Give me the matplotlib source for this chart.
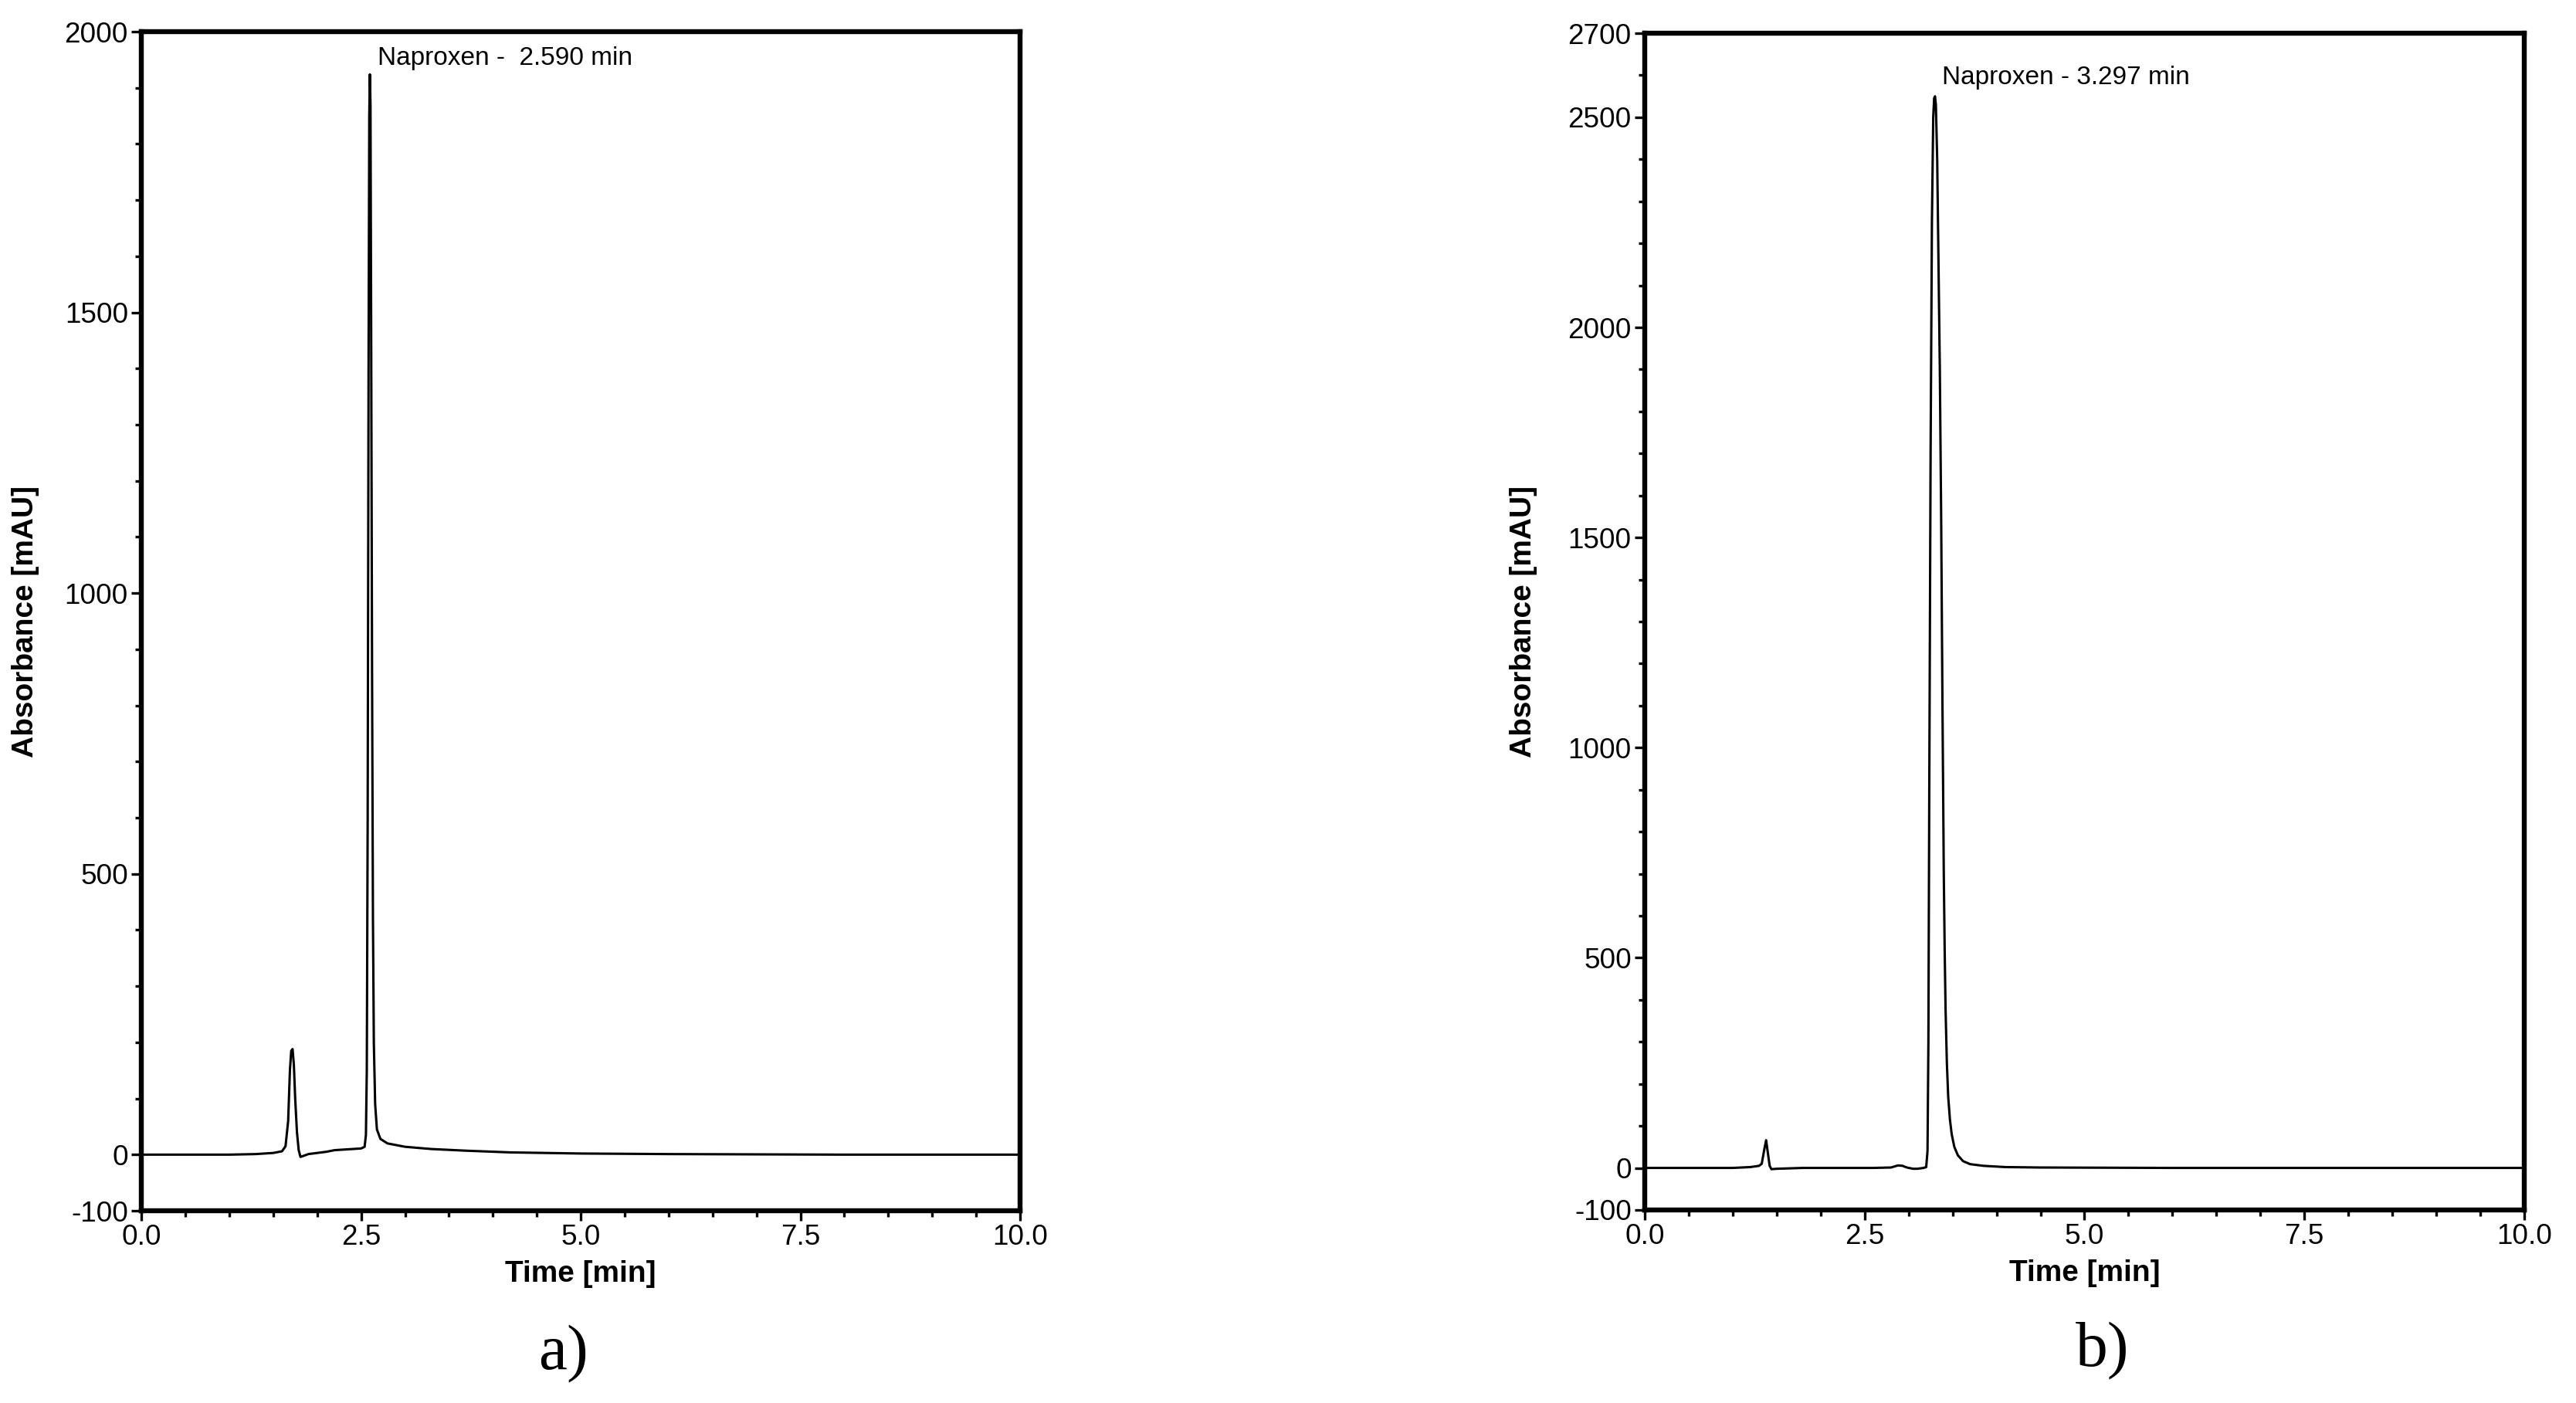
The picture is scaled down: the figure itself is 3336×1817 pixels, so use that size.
import matplotlib
matplotlib.use("Agg")
import matplotlib.pyplot as plt
from matplotlib.ticker import MultipleLocator, FixedLocator

plt.rcParams['font.family'] = ['Liberation Sans', 'DejaVu Sans']
plt.rcParams['axes.unicode_minus'] = False

# Chromatogram a)
time_a = [0.0, 0.5, 1.0, 1.3, 1.5, 1.6, 1.64, 1.67, 1.69, 1.705, 1.72, 1.735, 1.75, 1.77,
          1.79, 1.81, 1.83, 1.9, 2.0, 2.1, 2.2, 2.3, 2.4, 2.5, 2.54, 2.555, 2.565, 2.575,
          2.585, 2.593, 2.600, 2.607, 2.615, 2.625, 2.635, 2.645, 2.66, 2.68, 2.72, 2.8,
          3.0, 3.3, 3.7, 4.2, 5.0, 6.0, 8.0, 10.0]
abs_a = [0, 0, 0, 1, 3, 6, 15, 60, 150, 185, 188, 160, 100, 40,
         8, -4, -3, 1, 3, 5, 8, 9, 10, 11, 14, 35, 150, 600,
         1400, 1850, 1924, 1870, 1450, 850, 420, 200, 90, 45, 28, 20,
         14, 10, 7, 4, 2, 1, 0, 0]

# Chromatogram b)
time_b = [0.0, 0.5, 1.0, 1.2, 1.3, 1.33, 1.36, 1.38, 1.40, 1.42, 1.44, 1.5, 1.8, 2.2,
          2.6, 2.8, 2.88, 2.93, 2.98, 3.05, 3.1, 3.17, 3.2, 3.215, 3.225, 3.235, 3.25,
          3.265, 3.28, 3.29, 3.30, 3.31, 3.325, 3.34, 3.355, 3.37, 3.385, 3.40, 3.41,
          3.42, 3.435, 3.45, 3.47, 3.49, 3.52, 3.56, 3.62, 3.7, 3.85, 4.1, 4.5, 6.0,
          8.0, 10.0]
abs_b = [0, 0, 0, 2, 5, 10, 45, 66, 35, 5, -3, -2, 0, 0,
         0, 1, 6, 5, 1, -2, -2, 0, 2, 40, 300, 900, 1700,
         2250, 2500, 2545, 2550, 2530, 2400, 2150, 1900, 1550, 1100, 700, 520,
         380, 250, 170, 115, 80, 50, 30, 16, 9, 5, 2, 1, 0,
         0, 0]

peak_labels = ["Naproxen -  2.590 min", "Naproxen - 3.297 min"]
label_pos = [(2.69, 1952), (3.38, 2595)]
y_ticks_a = [-100, 0, 500, 1000, 1500, 2000]
y_ticks_b = [-100, 0, 500, 1000, 1500, 2000, 2500, 2700]
x_ticks = [0.0, 2.5, 5.0, 7.5, 10.0]
panel_names = ["a)", "b)"]

fig = plt.figure(figsize=(16.68, 9.085), dpi=200)
ax_a = fig.add_axes([0.0549, 0.1370, 0.3411, 0.8404])
ax_b = fig.add_axes([0.6385, 0.1376, 0.3414, 0.8387])

panels = [
    (ax_a, time_a, abs_a, y_ticks_a, (-100, 2000)),
    (ax_b, time_b, abs_b, y_ticks_b, (-100, 2700)),
]

for i, (ax, t, y, yt, ylim) in enumerate(panels):
    ax.plot(t, y, color='black', lw=1.1)
    ax.set_xlim(0, 10)
    ax.set_ylim(*ylim)
    ax.xaxis.set_major_locator(FixedLocator(x_ticks))
    ax.set_xticklabels([f"{v:.1f}" for v in x_ticks])
    ax.xaxis.set_minor_locator(MultipleLocator(0.5))
    ax.yaxis.set_major_locator(FixedLocator(yt))
    ax.set_yticklabels([str(v) for v in yt])
    ax.yaxis.set_minor_locator(MultipleLocator(100))
    ax.tick_params(which='major', direction='out', length=4.7, width=1.2,
                   labelsize=13.3, pad=1.5)
    ax.tick_params(which='minor', direction='out', length=2.8, width=1.2)
    for sp in ax.spines.values():
        sp.set_linewidth(2.3)
    ax.set_xlabel("Time [min]", fontsize=14, fontweight='bold')
    ax.set_ylabel("Absorbance [mAU]", fontsize=14, fontweight='bold')
    ax.xaxis.set_label_coords(0.5, -0.042)
    ax.yaxis.set_label_coords(-0.116 if i == 0 else -0.122, 0.5)
    ax.text(label_pos[i][0], label_pos[i][1], peak_labels[i], fontsize=12,
            ha='left', va='center')

fig.text(0.2188, 0.035, panel_names[0], fontsize=30, family='Liberation Serif',
         ha='center', va='center')
fig.text(0.8163, 0.037, panel_names[1], fontsize=30, family='Liberation Serif',
         ha='center', va='center')

fig.savefig("out.png", dpi=200)
